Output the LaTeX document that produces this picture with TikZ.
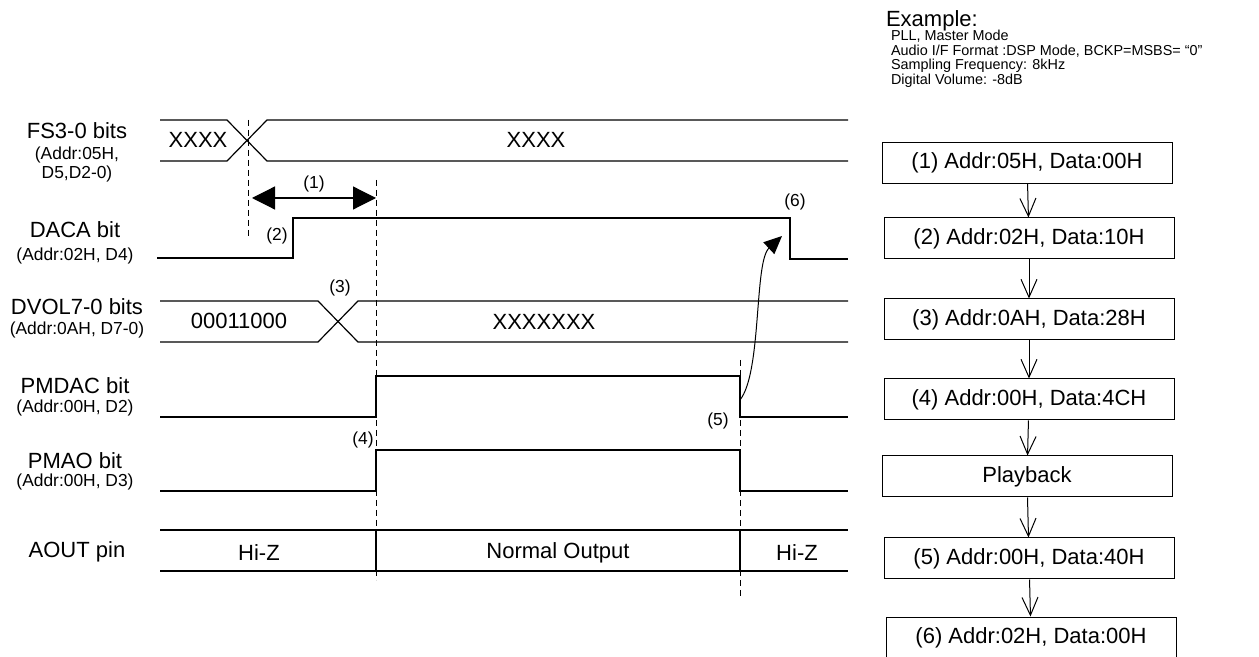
\documentclass[tikz,border=0pt]{standalone}
\usepackage{fontspec}
\setmainfont{Liberation Sans}
\usepackage{tikz}
\usetikzlibrary{arrows.meta}
\newcommand\bigtext  {\fontsize{11}{13}\selectfont}
\newcommand\midtext  {\fontsize{8.7}{10}\selectfont}
\newcommand\smalltext{\fontsize{7.2}{8.6}\selectfont}
\definecolor{inkline}{HTML}{000000}
\tikzset{
  wave/.style={inkline,line width=0.6pt},
  guide/.style={inkline,line width=0.5pt,dash pattern=on 3pt off 2pt},
  regbox/.style={draw=inkline,line width=0.5pt,minimum width=145pt,minimum height=20.5pt,inner sep=0pt,font=\bigtext},
  flow/.style={inkline,line width=0.5pt,-{Straight Barb[length=9pt,width=8pt]}},
  sig/.style={font=\bigtext},
  sub/.style={font=\midtext},
}

\begin{document}
\begin{tikzpicture}[x=0.5pt,y=-0.5pt]
\useasboundingbox (0,0) rectangle (1259,657);
% signal names
\node[sig] (nfs) at (77,131) {FS3-0 bits};
\node[sub] (afs) at (77,155) {(Addr:05H,};
\node[sub] (bfs) at (77,174) {D5,D2-0)};
\node[sig] (nda) at (75,230) {DACA bit};
\node[sub] (ada) at (75,256) {(Addr:02H, D4)};
\node[sig] (ndv) at (77,307) {DVOL7-0 bits};
\node[sub] (adv) at (77,330) {(Addr:0AH, D7-0)};
\node[sig] (npd) at (75,386) {PMDAC bit};
\node[sub] (apd) at (75,408) {(Addr:00H, D2)};
\node[sig] (npa) at (75,461) {PMAO bit};
\node[sub] (apa) at (75,482) {(Addr:00H, D3)};
\node[sig] (nao) at (77,552) {AOUT pin};
% waveforms
\draw[wave](160,120)--(227,120)--(267,161)--(848,161);
\draw[wave](160,161)--(227,161)--(267,120)--(848,120);
\draw[wave](157,258)--(293,258)--(293,218)--(790,218)--(790,259)--(848,259);
\draw[wave](160,301)--(318,301)--(358,342)--(848,342);
\draw[wave](160,342)--(318,342)--(358,301)--(848,301);
\draw[wave](160,417)--(376,417)--(376,376)--(740,376)--(740,417)--(848,417);
\draw[wave](160,491)--(376,491)--(376,450)--(740,450)--(740,491)--(848,491);
\draw[wave](160,530)--(848,530);
\draw[wave](160,571)--(848,571);
\draw[wave](376,530)--(376,571);
\draw[wave](740,530)--(740,571);
% dashed guides
\draw[guide](248,120)--(248,238);
\draw[guide](376,180)--(376,580);
\draw[guide](740,360)--(740,598);
% values
\node[sig] (vfs1) at (198,140) {XXXX};
\node[sig] (vfs2) at (536,140) {XXXX};
\node[sig] (vdv1) at (239,321) {00011000};
\node[sig] (vdv2) at (544,322) {XXXXXXX};
\node[sig] (vao1) at (259,553) {Hi-Z};
\node[sig] (vao2) at (558,553) {Normal Output};
\node[sig] (vao3) at (797,553) {Hi-Z};
% step marks
\node[sub] (s1) at (314,184) {(1)};
\node[sub] (s2) at (277,236) {(2)};
\node[sub] (s3) at (340,288) {(3)};
\node[sub] (s4) at (363,440) {(4)};
\node[sub] (s5) at (718,421) {(5)};
\node[sub] (s6) at (795,202) {(6)};
\coordinate (w1) at (252,198);
\coordinate (w2) at (376,198);
\draw[inkline,line width=0.6pt,{Triangle[length=11.5pt,width=11.5pt]}-{Triangle[length=11.5pt,width=11.5pt]}](w1)--(w2);
\coordinate (c5) at (740,400);
\coordinate (c6) at (782,236);
\draw[inkline,line width=0.5pt,-{Triangle[length=9pt,width=8pt]}](c5) .. controls (762,372) and (754,262) .. (c6);
% example settings
\node[font=\bigtext,anchor=west] (ex) at (879,21) {Example:};
\node[font=\smalltext,anchor=west] (ex1) at (884,36) {PLL, Master Mode};
\node[font=\smalltext,anchor=west] (ex2) at (884,51) {Audio I/F Format :DSP Mode, BCKP=MSBS= “0”};
\node[font=\smalltext,anchor=west] (ex3) at (884,66) {Sampling Frequency: 8kHz};
\node[font=\smalltext,anchor=west] (ex4) at (884,81) {Digital Volume: -8dB};
% register sequence
\node[regbox] (r1) at (1027,163) {(1) Addr:05H, Data:00H};
\node[regbox] (r2) at (1029,238.5) {(2) Addr:02H, Data:10H};
\node[regbox] (r3) at (1029,319.5) {(3) Addr:0AH, Data:28H};
\node[regbox] (r4) at (1029,399.5) {(4) Addr:00H, Data:4CH};
\node[regbox] (rp) at (1027,476.5) {Playback};
\node[regbox] (r5) at (1029,558.5) {(5) Addr:00H, Data:40H};
\node[regbox] (r6) at (1031,637.5) {(6) Addr:02H, Data:00H};
\draw[flow](r1)--(r2);
\draw[flow](r2)--(r3);
\draw[flow](r3)--(r4);
\draw[flow](r4)--(rp);
\draw[flow](rp)--(r5);
\draw[flow](r5)--(r6);
\end{tikzpicture}
\end{document}
